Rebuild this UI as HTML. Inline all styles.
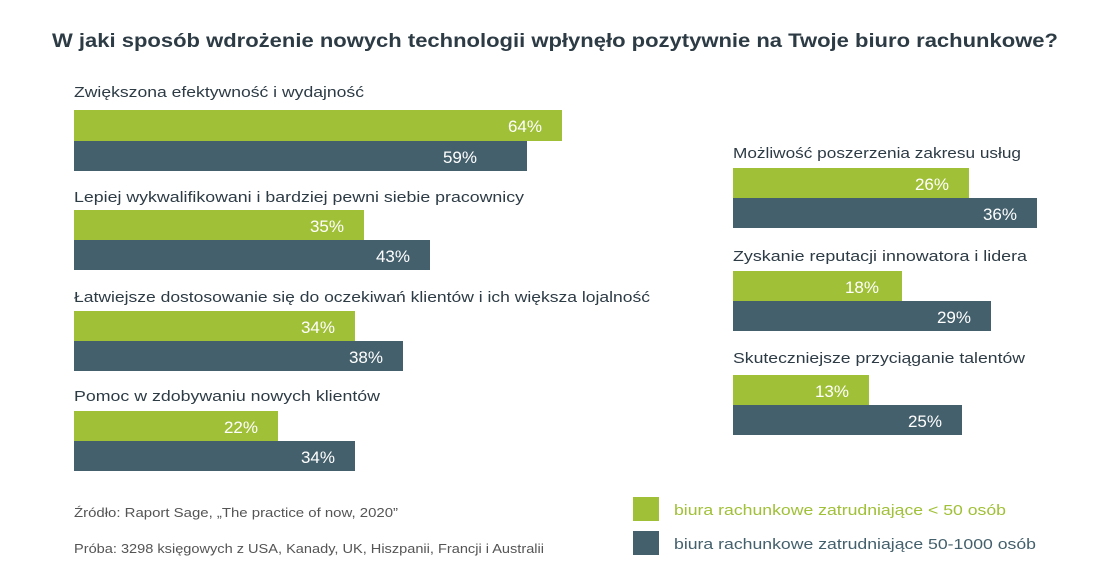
<!DOCTYPE html>
<html><head><meta charset="utf-8"><style>
body{margin:0;background:#fff;}
svg{display:block;font-family:"Liberation Sans",sans-serif;}
.lab{font-size:15px;fill:#2d3b45;}
.v{font-size:17px;fill:#fff;text-anchor:end;}
</style></head><body>
<svg width="1110" height="581" viewBox="0 0 1110 581">
<text x="52" y="47" font-size="19" font-weight="bold" fill="#2d3b45" textLength="1006" lengthAdjust="spacingAndGlyphs">W jaki sposób wdrożenie nowych technologii wpłynęło pozytywnie na Twoje biuro rachunkowe?</text>

<text class="lab" x="74" y="97" textLength="290" lengthAdjust="spacingAndGlyphs">Zwiększona efektywność i wydajność</text>
<rect x="74" y="110" width="488" height="31" fill="#a0c037"/><text class="v" x="542" y="132">64%</text>
<rect x="74" y="141" width="453" height="30" fill="#44606c"/><text class="v" x="477" y="163">59%</text>

<text class="lab" x="74" y="202" textLength="450" lengthAdjust="spacingAndGlyphs">Lepiej wykwalifikowani i bardziej pewni siebie pracownicy</text>
<rect x="74" y="210" width="290" height="30" fill="#a0c037"/><text class="v" x="344" y="232">35%</text>
<rect x="74" y="240" width="356" height="30" fill="#44606c"/><text class="v" x="410" y="262">43%</text>

<text class="lab" x="74" y="302" textLength="576" lengthAdjust="spacingAndGlyphs">Łatwiejsze dostosowanie się do oczekiwań klientów i ich większa lojalność</text>
<rect x="74" y="311" width="281" height="30" fill="#a0c037"/><text class="v" x="335" y="333">34%</text>
<rect x="74" y="341" width="329" height="30" fill="#44606c"/><text class="v" x="383" y="363">38%</text>

<text class="lab" x="74" y="401" textLength="306" lengthAdjust="spacingAndGlyphs">Pomoc w zdobywaniu nowych klientów</text>
<rect x="74" y="411" width="204" height="30" fill="#a0c037"/><text class="v" x="258" y="433">22%</text>
<rect x="74" y="441" width="281" height="30" fill="#44606c"/><text class="v" x="335" y="463">34%</text>

<text class="lab" x="733" y="158" textLength="288" lengthAdjust="spacingAndGlyphs">Możliwość poszerzenia zakresu usług</text>
<rect x="733" y="168" width="236" height="30" fill="#a0c037"/><text class="v" x="949" y="190">26%</text>
<rect x="733" y="198" width="304" height="30" fill="#44606c"/><text class="v" x="1017" y="220">36%</text>

<text class="lab" x="733" y="261" textLength="294" lengthAdjust="spacingAndGlyphs">Zyskanie reputacji innowatora i lidera</text>
<rect x="733" y="271" width="169" height="30" fill="#a0c037"/><text class="v" x="879" y="293">18%</text>
<rect x="733" y="301" width="258" height="30" fill="#44606c"/><text class="v" x="971" y="323">29%</text>

<text class="lab" x="733" y="363" textLength="292" lengthAdjust="spacingAndGlyphs">Skuteczniejsze przyciąganie talentów</text>
<rect x="733" y="375" width="136" height="30" fill="#a0c037"/><text class="v" x="849" y="397">13%</text>
<rect x="733" y="405" width="229" height="30" fill="#44606c"/><text class="v" x="942" y="427">25%</text>

<text x="74" y="517" font-size="12.5" fill="#555" textLength="324" lengthAdjust="spacingAndGlyphs">Źródło: Raport Sage, „The practice of now, 2020”</text>
<text x="74" y="553" font-size="12.5" fill="#555" textLength="470" lengthAdjust="spacingAndGlyphs">Próba: 3298 księgowych z USA, Kanady, UK, Hiszpanii, Francji i Australii</text>

<rect x="633" y="497" width="26" height="24" fill="#a0c037"/>
<text x="674" y="515" font-size="15" fill="#a0c037" textLength="332" lengthAdjust="spacingAndGlyphs">biura rachunkowe zatrudniające &lt; 50 osób</text>
<rect x="633" y="531" width="26" height="24" fill="#44606c"/>
<text x="674" y="549" font-size="15" fill="#44606c" textLength="362" lengthAdjust="spacingAndGlyphs">biura rachunkowe zatrudniające 50-1000 osób</text>
</svg>
</body></html>
